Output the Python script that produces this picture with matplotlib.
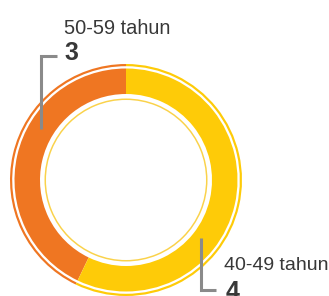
import matplotlib
matplotlib.use("Agg")
import matplotlib.pyplot as plt

categories = ["50-59 tahun", "40-49 tahun"]
values = [3, 4]
colors = ["#EF7622", "#FECB08"]

W, H = 329, 296
fig = plt.figure(figsize=(W / 100, H / 100), dpi=100)
ax = fig.add_axes([0, 0, 1, 1])

cx, cy = 126, H - 180

# outer thin ring
ax.pie(values, startangle=90, counterclock=True, radius=116, center=(cx, cy),
       colors=colors, wedgeprops=dict(width=2.2, linewidth=0))
# main band
ax.pie(values, startangle=90, counterclock=True, radius=111.5, center=(cx, cy),
       colors=colors, wedgeprops=dict(width=25.5, linewidth=0))
# inner thin ring
ax.pie([sum(values)], startangle=90, radius=81.5, center=(cx, cy),
       colors=["#FAD24A"], wedgeprops=dict(width=1.5, linewidth=0))

ax.set_xlim(0, W)
ax.set_ylim(0, H)
ax.set_aspect("equal")
ax.axis("off")

font = "Liberation Sans"
tc = "#383838"
lc = "#8A8A8A"

# label for first category (top-left)
ax.text(64.5, H - 34, categories[0], fontsize=14.4, family=font, color=tc, va="baseline", ha="left")
ax.text(64.5, H - 60.5, str(values[0]), fontsize=18, family=font, fontweight="bold", color=tc,
        va="baseline", ha="left")
ax.plot([57, 40.5, 40.5], [H - 55.5, H - 55.5, H - 129], color=lc, lw=2.2,
        solid_capstyle="butt", solid_joinstyle="miter")

# label for second category (bottom-right)
ax.text(224, H - 270, categories[1], fontsize=14.0, family=font, color=tc, va="baseline", ha="left")
ax.text(225.5, H - 299, str(values[1]), fontsize=18, family=font, fontweight="bold", color=tc,
        va="baseline", ha="left")
ax.plot([200.5, 200.5, 216], [H - 238, H - 290, H - 290], color=lc, lw=2.2,
        solid_capstyle="butt", solid_joinstyle="miter")

fig.savefig("out.png", dpi=100)
